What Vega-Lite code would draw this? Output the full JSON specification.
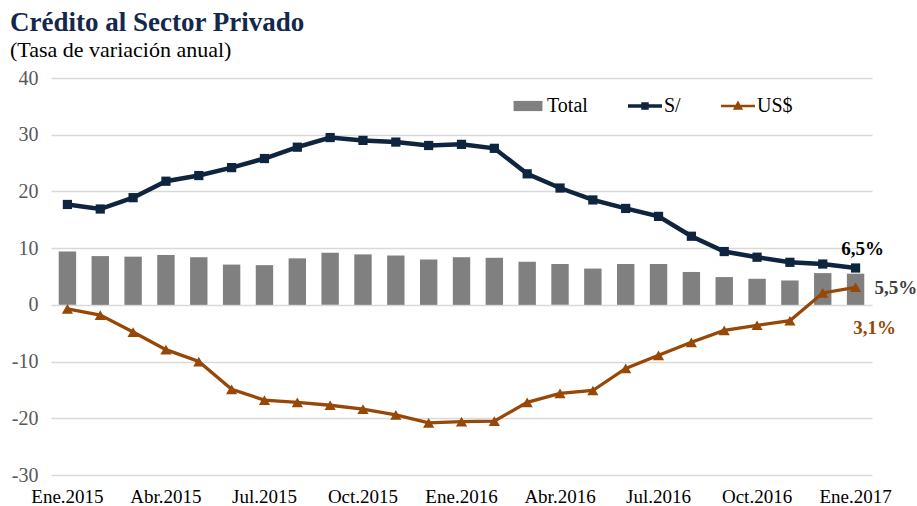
{
  "$schema": "https://vega.github.io/schema/vega-lite/v6.json",
  "width": 821,
  "height": 397,
  "autosize": {"type": "none"},
  "padding": {"left": 51, "top": 78, "right": 45, "bottom": 31},
  "background": "white",
  "title": {
    "text": "Crédito al Sector Privado",
    "subtitle": "(Tasa de variación anual)",
    "anchor": "start",
    "frame": "group",
    "dx": -41,
    "offset": 6,
    "font": "Liberation Serif",
    "fontSize": 27,
    "fontWeight": "bold",
    "color": "#14284b",
    "subtitleFont": "Liberation Serif",
    "subtitleFontSize": 22,
    "subtitleColor": "#000000",
    "subtitlePadding": 3
  },
  "config": {"view": {"stroke": null}, "font": "Liberation Serif"},
  "data": {
    "values": [
      {"mes": "Ene.2015", "serie": "Total", "valor": 9.4},
      {"mes": "Feb.2015", "serie": "Total", "valor": 8.6},
      {"mes": "Mar.2015", "serie": "Total", "valor": 8.5},
      {"mes": "Abr.2015", "serie": "Total", "valor": 8.8},
      {"mes": "May.2015", "serie": "Total", "valor": 8.4},
      {"mes": "Jun.2015", "serie": "Total", "valor": 7.1},
      {"mes": "Jul.2015", "serie": "Total", "valor": 7.0},
      {"mes": "Ago.2015", "serie": "Total", "valor": 8.2},
      {"mes": "Set.2015", "serie": "Total", "valor": 9.2},
      {"mes": "Oct.2015", "serie": "Total", "valor": 8.9},
      {"mes": "Nov.2015", "serie": "Total", "valor": 8.7},
      {"mes": "Dic.2015", "serie": "Total", "valor": 8.0},
      {"mes": "Ene.2016", "serie": "Total", "valor": 8.4},
      {"mes": "Feb.2016", "serie": "Total", "valor": 8.3},
      {"mes": "Mar.2016", "serie": "Total", "valor": 7.6},
      {"mes": "Abr.2016", "serie": "Total", "valor": 7.2},
      {"mes": "May.2016", "serie": "Total", "valor": 6.4},
      {"mes": "Jun.2016", "serie": "Total", "valor": 7.2},
      {"mes": "Jul.2016", "serie": "Total", "valor": 7.2},
      {"mes": "Ago.2016", "serie": "Total", "valor": 5.8},
      {"mes": "Set.2016", "serie": "Total", "valor": 4.9},
      {"mes": "Oct.2016", "serie": "Total", "valor": 4.6},
      {"mes": "Nov.2016", "serie": "Total", "valor": 4.3},
      {"mes": "Dic.2016", "serie": "Total", "valor": 5.6},
      {"mes": "Ene.2017", "serie": "Total", "valor": 5.5, "etiqueta": "5,5%"},
      {"mes": "Ene.2015", "serie": "S/", "valor": 17.7},
      {"mes": "Feb.2015", "serie": "S/", "valor": 16.9},
      {"mes": "Mar.2015", "serie": "S/", "valor": 18.9},
      {"mes": "Abr.2015", "serie": "S/", "valor": 21.8},
      {"mes": "May.2015", "serie": "S/", "valor": 22.8},
      {"mes": "Jun.2015", "serie": "S/", "valor": 24.2},
      {"mes": "Jul.2015", "serie": "S/", "valor": 25.8},
      {"mes": "Ago.2015", "serie": "S/", "valor": 27.8},
      {"mes": "Set.2015", "serie": "S/", "valor": 29.5},
      {"mes": "Oct.2015", "serie": "S/", "valor": 29.0},
      {"mes": "Nov.2015", "serie": "S/", "valor": 28.7},
      {"mes": "Dic.2015", "serie": "S/", "valor": 28.1},
      {"mes": "Ene.2016", "serie": "S/", "valor": 28.3},
      {"mes": "Feb.2016", "serie": "S/", "valor": 27.6},
      {"mes": "Mar.2016", "serie": "S/", "valor": 23.1},
      {"mes": "Abr.2016", "serie": "S/", "valor": 20.6},
      {"mes": "May.2016", "serie": "S/", "valor": 18.5},
      {"mes": "Jun.2016", "serie": "S/", "valor": 17.0},
      {"mes": "Jul.2016", "serie": "S/", "valor": 15.6},
      {"mes": "Ago.2016", "serie": "S/", "valor": 12.1},
      {"mes": "Set.2016", "serie": "S/", "valor": 9.4},
      {"mes": "Oct.2016", "serie": "S/", "valor": 8.4},
      {"mes": "Nov.2016", "serie": "S/", "valor": 7.5},
      {"mes": "Dic.2016", "serie": "S/", "valor": 7.2},
      {"mes": "Ene.2017", "serie": "S/", "valor": 6.5, "etiqueta": "6,5%"},
      {"mes": "Ene.2015", "serie": "US$", "valor": -0.7},
      {"mes": "Feb.2015", "serie": "US$", "valor": -1.8},
      {"mes": "Mar.2015", "serie": "US$", "valor": -4.8},
      {"mes": "Abr.2015", "serie": "US$", "valor": -7.9},
      {"mes": "May.2015", "serie": "US$", "valor": -10.0},
      {"mes": "Jun.2015", "serie": "US$", "valor": -14.9},
      {"mes": "Jul.2015", "serie": "US$", "valor": -16.8},
      {"mes": "Ago.2015", "serie": "US$", "valor": -17.2},
      {"mes": "Set.2015", "serie": "US$", "valor": -17.7},
      {"mes": "Oct.2015", "serie": "US$", "valor": -18.4},
      {"mes": "Nov.2015", "serie": "US$", "valor": -19.4},
      {"mes": "Dic.2015", "serie": "US$", "valor": -20.8},
      {"mes": "Ene.2016", "serie": "US$", "valor": -20.6},
      {"mes": "Feb.2016", "serie": "US$", "valor": -20.5},
      {"mes": "Mar.2016", "serie": "US$", "valor": -17.2},
      {"mes": "Abr.2016", "serie": "US$", "valor": -15.6},
      {"mes": "May.2016", "serie": "US$", "valor": -15.1},
      {"mes": "Jun.2016", "serie": "US$", "valor": -11.2},
      {"mes": "Jul.2016", "serie": "US$", "valor": -8.9},
      {"mes": "Ago.2016", "serie": "US$", "valor": -6.6},
      {"mes": "Set.2016", "serie": "US$", "valor": -4.5},
      {"mes": "Oct.2016", "serie": "US$", "valor": -3.6},
      {"mes": "Nov.2016", "serie": "US$", "valor": -2.8},
      {"mes": "Dic.2016", "serie": "US$", "valor": 2.1},
      {"mes": "Ene.2017", "serie": "US$", "valor": 3.1, "etiqueta": "3,1%"}
    ]
  },
  "encoding": {
    "x": {
      "field": "mes",
      "type": "ordinal",
      "sort": ["Ene.2015","Feb.2015","Mar.2015","Abr.2015","May.2015","Jun.2015","Jul.2015","Ago.2015","Set.2015","Oct.2015","Nov.2015","Dic.2015","Ene.2016","Feb.2016","Mar.2016","Abr.2016","May.2016","Jun.2016","Jul.2016","Ago.2016","Set.2016","Oct.2016","Nov.2016","Dic.2016","Ene.2017"],
      "scale": {"paddingInner": 0.47},
      "axis": {
        "values": ["Ene.2015","Abr.2015","Jul.2015","Oct.2015","Ene.2016","Abr.2016","Jul.2016","Oct.2016","Ene.2017"],
        "labelAngle": 0,
        "ticks": false,
        "domain": false,
        "grid": false,
        "title": null,
        "labelFont": "Liberation Serif",
        "labelFontSize": 19,
        "labelColor": "#000000",
        "labelPadding": 12
      }
    },
    "y": {
      "field": "valor",
      "type": "quantitative",
      "scale": {"domain": [-30, 40], "nice": false, "zero": false},
      "axis": {
        "values": [-30, -20, -10, 0, 10, 20, 30, 40],
        "labelExpr": "datum.value < 0 ? '-' + abs(datum.value) : '' + datum.value",
        "ticks": false,
        "domain": false,
        "title": null,
        "gridColor": "#d9d9d9",
        "gridWidth": 1.3,
        "labelFont": "Liberation Serif",
        "labelFontSize": 20,
        "labelColor": "#595959",
        "labelPadding": 13
      }
    },
    "color": {
      "field": "serie",
      "type": "nominal",
      "scale": {"domain": ["Total", "S/", "US$"], "range": ["#808080", "#0f243e", "#974706"]},
      "legend": {
        "title": null,
        "orient": "none",
        "legendX": 460,
        "legendY": 11,
        "direction": "horizontal",
        "symbolSize": 1156,
        "labelFont": "Liberation Serif",
        "labelFontSize": 20,
        "labelColor": "#000000",
        "labelOffset": 2,
        "columnPadding": 40,
        "encode": {
          "symbols": {
            "update": {
              "shape": {"signal": "datum.value === 'Total' ? 'M-0.85,-0.3H0.85V0.3H-0.85Z' : datum.value === 'S/' ? 'M-1,-0.1H1V0.1H-1Z M-0.22,-0.22H0.22V0.22H-0.22Z' : 'M-1,-0.08H1V0.08H-1Z M-0.3,0.22L0,-0.32L0.3,0.22Z'"},
              "fill": {"signal": "datum.value === 'Total' ? '#808080' : datum.value === 'S/' ? '#0f243e' : '#974706'"},
              "strokeWidth": {"value": 0},
              "opacity": {"value": 1}
            }
          }
        }
      }
    }
  },
  "layer": [
    {
      "transform": [{"filter": "datum.serie === 'Total'"}],
      "mark": {"type": "bar"}
    },
    {
      "transform": [{"filter": "datum.serie === 'S/'"}],
      "mark": {"type": "line", "strokeWidth": 4.5}
    },
    {
      "transform": [{"filter": "datum.serie === 'S/'"}],
      "mark": {"type": "point", "shape": "square", "filled": true, "opacity": 1, "size": 85}
    },
    {
      "transform": [{"filter": "datum.serie === 'US$'"}],
      "mark": {"type": "line", "strokeWidth": 3.3}
    },
    {
      "transform": [{"filter": "datum.serie === 'US$'"}],
      "mark": {"type": "point", "shape": "triangle-up", "filled": true, "opacity": 1, "size": 125}
    },
    {
      "transform": [{"filter": "datum.serie === 'S/' && datum.etiqueta"}],
      "mark": {"type": "text", "align": "center", "baseline": "alphabetic", "dx": 7, "dy": -13, "fontSize": 19, "fontWeight": "bold", "font": "Liberation Serif"},
      "encoding": {"text": {"field": "etiqueta"}, "color": {"value": "#000000"}}
    },
    {
      "transform": [{"filter": "datum.serie === 'Total' && datum.etiqueta"}],
      "mark": {"type": "text", "align": "left", "baseline": "alphabetic", "dx": 19, "dy": 20, "fontSize": 19, "fontWeight": "bold", "font": "Liberation Serif"},
      "encoding": {"text": {"field": "etiqueta"}, "color": {"value": "#404040"}}
    },
    {
      "transform": [{"filter": "datum.serie === 'US$' && datum.etiqueta"}],
      "mark": {"type": "text", "align": "center", "baseline": "alphabetic", "dx": 19, "dy": 47, "fontSize": 19, "fontWeight": "bold", "font": "Liberation Serif"},
      "encoding": {"text": {"field": "etiqueta"}, "color": {"value": "#974706"}}
    }
  ]
}
